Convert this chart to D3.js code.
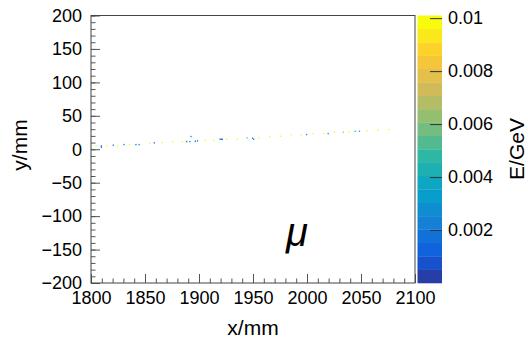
<!DOCTYPE html>
<html>
<head>
<meta charset="utf-8">
<script src="https://cdn.jsdelivr.net/npm/d3@7"></script>
<style>
  body { margin: 0; background: #fff; }
  text { font-family: "Liberation Sans", Arial, Helvetica, sans-serif; fill: #000; }
</style>
</head>
<body>
<div id="chart"></div>
<script>
// hit positions (mm) and deposited energy (GeV)
const hitX = [1804, 1809, 1809, 1814, 1820, 1824, 1830, 1835, 1841, 1844,
  1854, 1858, 1865, 1875, 1884, 1888, 1891, 1892, 1896, 1898,
  1905, 1913, 1919, 1920, 1921, 1925, 1935, 1944, 1949, 1950,
  1955, 1965, 1975, 1985, 1994, 1999, 2005, 2015, 2019, 2025,
  2033, 2038, 2044, 2048, 2055, 2065, 2075];
const hitY = [4, 2, 4, 4, 5, 4, 6, 6, 6, 6,
  8, 8.5, 9, 10, 10.5, 10.5, 10.5, 18, 11, 11.5,
  12, 12, 14, 14, 14, 14, 14, 16, 15.5, 14,
  16, 18, 18.5, 20.5, 20.5, 21, 22.5, 22.5, 22.5, 24.5,
  24.5, 24.5, 26, 26, 26.5, 28, 28.5];
const hitE = [0.0097, 0.0012, 0.0016, 0.0097, 0.0018, 0.0097, 0.0028, 0.0097, 0.0018, 0.0028,
  0.0097, 0.0018, 0.0097, 0.0097, 0.0097, 0.0018, 0.0020, 0.0022, 0.0016, 0.0018,
  0.0097, 0.0097, 0.0018, 0.0018, 0.0018, 0.0097, 0.0097, 0.0060, 0.0018, 0.0022,
  0.0097, 0.0097, 0.0097, 0.0097, 0.0097, 0.0028, 0.0097, 0.0097, 0.0028, 0.0097,
  0.0070, 0.0097, 0.0042, 0.0038, 0.0097, 0.0097, 0.0097];

const xTicks = [1800, 1850, 1900, 1950, 2000, 2050, 2100];
const yTicks = [-200, -150, -100, -50, 0, 50, 100, 150, 200];
const zTicks = [0.002, 0.004, 0.006, 0.008, 0.01];

const xBin = 1.2, yBin = 2, zMax = 0.0101, nContours = 20;

const width = 528, height = 341;
const frame = { l: 91, r: 415, t: 15.5, b: 283 };
const bar = { l: 417.5, r: 442 };

const svg = d3.select("#chart").append("svg")
  .attr("width", width).attr("height", height);

const x = d3.scaleLinear().domain([1800, 2100]).range([frame.l, frame.r]);
const y = d3.scaleLinear().domain([-200, 200]).range([frame.b, frame.t]);
const z = d3.scaleLinear().domain([0, zMax]).range([frame.b, frame.t]);

// ROOT kBird palette
const stops = [0, 0.125, 0.25, 0.375, 0.5, 0.625, 0.75, 0.875, 1];
const red = [0.2082, 0.0592, 0.0780, 0.0232, 0.1802, 0.5301, 0.8186, 0.9956, 0.9764];
const green = [0.1664, 0.3599, 0.5041, 0.6419, 0.7178, 0.7492, 0.7328, 0.7862, 0.9832];
const blue = [0.5293, 0.8684, 0.8385, 0.7914, 0.6425, 0.4662, 0.3499, 0.1968, 0.0539];
const rgb = stops.map((s, i) => d3.rgb(red[i] * 255, green[i] * 255, blue[i] * 255));
const bird = d3.scaleLinear().domain(stops).range(rgb).interpolate(d3.interpolateRgb);
const bandColor = j => bird(Math.floor((j + 0.99) * 255 / nContours) / 254);
const cellColor = e => bandColor(Math.min(nContours - 1, Math.floor(e / zMax * nContours)));

// cells
svg.append("g").selectAll("rect")
  .data(hitX.map((d, i) => ({ x: d, y: hitY[i], e: hitE[i] })))
  .enter().append("rect")
  .attr("x", d => x(d.x))
  .attr("y", d => y(d.y + yBin))
  .attr("width", d => x(d.x + xBin) - x(d.x))
  .attr("height", d => y(d.y) - y(d.y + yBin))
  .attr("fill", d => cellColor(d.e));

// axes, ticks pointing into the frame
function minorTicks(lo, hi, step) {
  return d3.range(lo, hi + step / 2, step);
}
const axisStyle = g => {
  g.select(".domain").remove();
  g.selectAll("line").attr("stroke", "#555");
  g.selectAll("text").attr("font-size", 18).attr("fill", "#000");
};

svg.append("g").attr("transform", `translate(0,${frame.b})`)
  .call(d3.axisBottom(x).tickValues(minorTicks(1800, 2100, 10)).tickSize(-4.5).tickFormat(""))
  .call(axisStyle);
svg.append("g").attr("transform", `translate(0,${frame.b})`)
  .call(d3.axisBottom(x).tickValues(xTicks).tickSize(-9).tickPadding(8).tickFormat(d3.format("d")))
  .call(axisStyle);

svg.append("g").attr("transform", `translate(${frame.l},0)`)
  .call(d3.axisLeft(y).tickValues(minorTicks(-200, 200, 10)).tickSize(-4.5).tickFormat(""))
  .call(axisStyle);
svg.append("g").attr("transform", `translate(${frame.l},0)`)
  .call(d3.axisLeft(y).tickValues(yTicks).tickSize(-9).tickPadding(9).tickFormat(d => d < 0 ? "\u2212" + (-d) : d))
  .call(axisStyle);

// frame
svg.append("rect")
  .attr("x", frame.l).attr("y", frame.t)
  .attr("width", frame.r - frame.l).attr("height", frame.b - frame.t)
  .attr("fill", "none").attr("stroke", "#444").attr("stroke-width", 1);

// colour bar
svg.append("g").selectAll("rect")
  .data(d3.range(nContours))
  .enter().append("rect")
  .attr("x", bar.l)
  .attr("width", bar.r - bar.l)
  .attr("y", j => z((j + 1) * zMax / nContours))
  .attr("height", j => z(j * zMax / nContours) - z((j + 1) * zMax / nContours) + 0.3)
  .attr("fill", j => bandColor(j));

svg.append("g").attr("transform", `translate(${bar.r},0)`)
  .call(d3.axisRight(z).tickValues(zTicks).tickSize(-12).tickPadding(6).tickFormat(d3.format("")))
  .call(axisStyle)
  .call(g => g.selectAll("line").attr("stroke", "#333"));

// titles
svg.append("text").attr("x", 253).attr("y", 335)
  .attr("text-anchor", "middle").attr("font-size", 21).text("x/mm");
svg.append("text").attr("transform", "translate(27,145) rotate(-90)")
  .attr("text-anchor", "middle").attr("font-size", 21).text("y/mm");
svg.append("text").attr("transform", "translate(524,149) rotate(-90)")
  .attr("text-anchor", "middle").attr("font-size", 21).text("E/GeV");
svg.append("text").attr("x", 297).attr("y", 246)
  .attr("text-anchor", "middle").attr("font-size", 40).attr("font-style", "italic")
  .attr("font-family", "'DejaVu Sans', 'Liberation Sans', sans-serif").text("\u03bc");
</script>
</body>
</html>
